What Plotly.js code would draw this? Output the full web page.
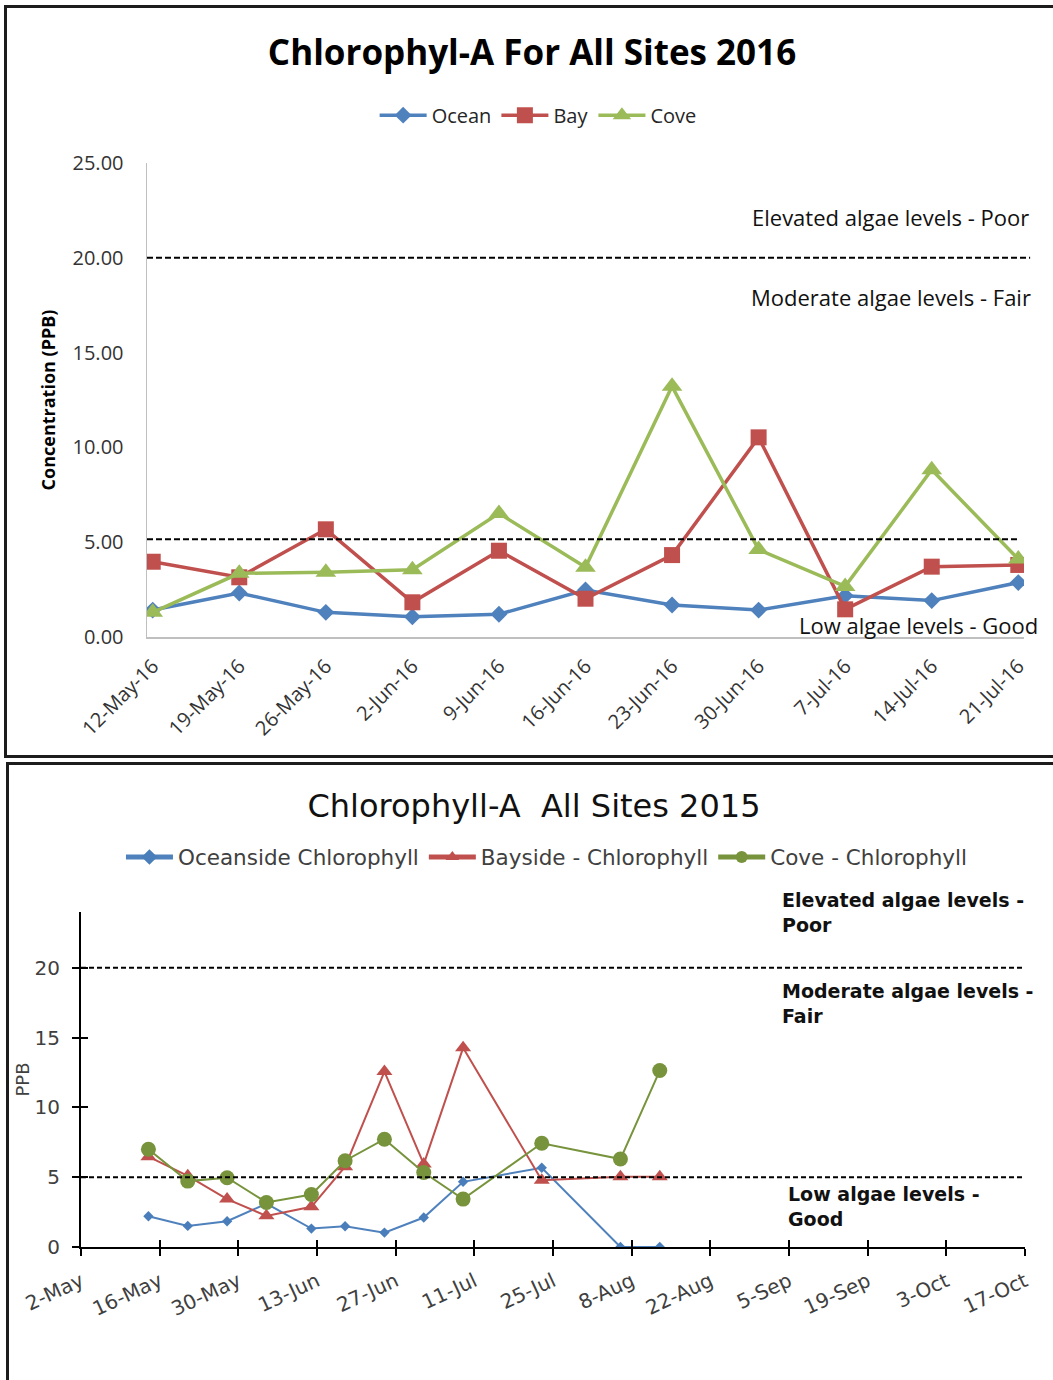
<!DOCTYPE html>
<html>
<head>
<meta charset="utf-8">
<script src="https://cdn.plot.ly/plotly-3.0.1.min.js"></script>
<style>
  html, body { margin: 0; padding: 0; background: #fff; overflow: hidden; width: 1053px; height: 1380px; }
  .frame { position: absolute; border: 3px solid #1c1c1c; background: #fff; }
  #frame2016 { left: 4px; top: 5px; width: 1050px; height: 747px; }
  #frame2015 { left: 6px; top: 762px; width: 1050px; height: 640px; }
</style>
</head>
<body>
<div class="frame" id="frame2016"><div id="chart2016"></div></div>
<div class="frame" id="frame2015"><div id="chart2015"></div></div>
<script>
// ---- 2016 weekly samples (PPB) ----
const weeks2016 = ['12-May-16', '19-May-16', '26-May-16', '2-Jun-16', '9-Jun-16', '16-Jun-16',
                   '23-Jun-16', '30-Jun-16', '7-Jul-16', '14-Jul-16', '21-Jul-16'];
const ocean2016 = [1.42, 2.32, 1.30, 1.07, 1.20, 2.48, 1.69, 1.42, 2.18, 1.92, 2.87];
const bay2016   = [3.97, 3.15, 5.68, 1.83, 4.55, 2.02, 4.32, 10.53, 1.46, 3.71, 3.80];
const cove2016  = [1.30, 3.36, 3.41, 3.55, 6.52, 3.68, 13.22, 4.61, 2.67, 8.82, 4.11];
const levels2016 = { poor: 20, good: 5.15 };

// ---- 2015 samples (PPB) ----
const dates2015 = ['2015-05-14', '2015-05-21', '2015-05-28', '2015-06-04', '2015-06-12', '2015-06-18',
                   '2015-06-25', '2015-07-02', '2015-07-09', '2015-07-23', '2015-08-06', '2015-08-13'];
const oceanside2015 = [2.2, 1.51, 1.85, 3.1, 1.32, 1.49, 1.03, 2.11, 4.67, 5.68, 0, 0];
const bayside2015   = [6.47, 5.1, 3.43, 2.23, 2.88, 5.75, 12.57, 5.94, 14.27, 4.79, 5.03, 5.03];
const cove2015      = [7.0, 4.72, 4.96, 3.19, 3.76, 6.18, 7.72, 5.34, 3.43, 7.43, 6.30, 12.64];
const levels2015 = { poor: 20, good: 5 };

const SANS = 'Open Sans, Noto Sans, sans-serif';
const WIDE = 'DejaVu Sans, Verdana, sans-serif';

// ================= 2016 chart =================
const lineTrace = (name, y, color, symbol, size) => ({
  type: 'scatter', mode: 'lines+markers', name: name,
  x: weeks2016, y: y,
  line: { color: color, width: 3.5 },
  marker: { color: color, symbol: symbol, size: size },
  hoverinfo: 'x+y+name'
});

const traces2016 = [
  lineTrace('Ocean', ocean2016, '#4F81BD', 'diamond', 13),
  lineTrace('Bay', bay2016, '#C0504D', 'square', 16),
  lineTrace('Cove', cove2016, '#9BBB59', 'triangle-up', 18)
];

const layout2016 = {
  width: 1050, height: 747,
  margin: { l: 140, r: 33, t: 155, b: 118 },
  paper_bgcolor: '#fff', plot_bgcolor: '#fff',
  font: { family: SANS, color: '#262626' },
  title: {
    text: 'Chlorophyl-A For All Sites 2016',
    font: { family: SANS, size: 35, weight: 'bold', color: '#000' },
    xref: 'container', x: 0.5, xanchor: 'center',
    yref: 'container', y: 0.940, yanchor: 'middle'
  },
  showlegend: true,
  legend: {
    orientation: 'h', x: 0.446, xanchor: 'center', y: 1.101, yanchor: 'middle',
    itemwidth: 47,
    font: { family: SANS, size: 20, color: '#262626' },
    bgcolor: 'rgba(0,0,0,0)'
  },
  xaxis: {
    type: 'category', categoryorder: 'array', categoryarray: weeks2016,
    range: [-0.066, 10.066],
    showline: true, linecolor: '#BFBFBF', linewidth: 1.5,
    showgrid: false, zeroline: false, ticks: '',
    ticklabelstandoff: 8,
    tickangle: -45, tickfont: { family: SANS, size: 20, color: '#333' }
  },
  yaxis: {
    range: [0, 25], dtick: 5, tickformat: '.2f',
    showline: true, linecolor: '#BFBFBF', linewidth: 1.5,
    showgrid: false, zeroline: false, ticks: '',
    ticklabelstandoff: 18,
    tickfont: { family: SANS, size: 20, color: '#333' },
    title: { text: 'Concentration (PPB)', standoff: 12,
             font: { family: SANS, size: 18, weight: 'bold', color: '#000' } }
  },
  shapes: [
    { type: 'line', xref: 'paper', yref: 'y', x0: 0, x1: 1.007, y0: levels2016.poor, y1: levels2016.poor,
      line: { color: '#000', width: 2, dash: '6px,3px' } },
    { type: 'line', xref: 'paper', yref: 'y', x0: 0, x1: 0.992, y0: levels2016.good, y1: levels2016.good,
      line: { color: '#000', width: 2, dash: '6px,3px' } }
  ],
  annotations: [
    { text: 'Elevated algae levels - Poor', xref: 'paper', yref: 'y', x: 1.008, y: 22.15,
      xanchor: 'right', yanchor: 'middle', showarrow: false,
      font: { family: SANS, size: 22, color: '#111' } },
    { text: 'Moderate algae levels - Fair', xref: 'paper', yref: 'y', x: 1.010, y: 17.93,
      xanchor: 'right', yanchor: 'middle', showarrow: false,
      font: { family: SANS, size: 22, color: '#111' } },
    { text: 'Low algae levels - Good', xref: 'paper', yref: 'y', x: 1.018, y: 0.63,
      xanchor: 'right', yanchor: 'middle', showarrow: false,
      font: { family: SANS, size: 22, color: '#111' } }
  ]
};

Plotly.newPlot('chart2016', traces2016, layout2016, { displayModeBar: false, staticPlot: true });

// ================= 2015 chart =================
const dayMs = 86400000;
const dateTrace = (name, y, color, lineColor, symbol, size) => ({
  type: 'scatter', mode: 'lines+markers', name: name,
  x: dates2015, y: y,
  line: { color: lineColor, width: 2 },
  marker: { color: color, symbol: symbol, size: size },
  hoverinfo: 'x+y+name'
});

const traces2015 = [
  dateTrace('Oceanside Chlorophyll', oceanside2015, '#4A7EBB', '#4F81BD', 'diamond', 8),
  dateTrace('Bayside - Chlorophyll', bayside2015, '#C0504D', '#C0504D', 'triangle-up', 14),
  dateTrace('Cove - Chlorophyll', cove2015, '#77933C', '#77933C', 'circle', 15),
  // empty companion trace so the inner tick marks (cross ticks) get their own overlay axes
  { type: 'scatter', x: [], y: [], xaxis: 'x2', yaxis: 'y2', showlegend: false, hoverinfo: 'skip' }
];

const xRange2015 = ['2015-05-02', '2015-10-17'];
const yRange2015 = [0, 24];

const layout2015 = {
  width: 1050, height: 640,
  margin: { l: 71.6, r: 33.5, t: 147, b: 158.3 },
  paper_bgcolor: '#fff', plot_bgcolor: 'rgba(0,0,0,0)',
  font: { family: WIDE, color: '#404040' },
  title: {
    text: 'Chlorophyll-A\u00a0 All Sites 2015',
    font: { family: WIDE, size: 32, color: '#111' },
    xref: 'container', x: 0.5, xanchor: 'center',
    yref: 'container', y: 0.936, yanchor: 'middle'
  },
  showlegend: true,
  legend: {
    orientation: 'h', x: 0.4936, xanchor: 'center', y: 1.164, yanchor: 'middle',
    itemwidth: 47,
    font: { family: WIDE, size: 21.5, color: '#404040' },
    itemsizing: 'constant', bgcolor: 'rgba(0,0,0,0)'
  },
  xaxis: {
    type: 'date', range: xRange2015, tick0: '2015-05-02', dtick: 14 * dayMs,
    tickformat: '%-d-%b', tickangle: -25,
    showline: true, linecolor: '#000', linewidth: 2,
    ticks: 'outside', ticklen: 7, tickwidth: 2, tickcolor: '#000',
    ticklabelstandoff: 6,
    showgrid: false, zeroline: false,
    tickfont: { family: WIDE, size: 20, color: '#404040' }
  },
  yaxis: {
    range: yRange2015, dtick: 5,
    showline: true, linecolor: '#000', linewidth: 2,
    ticks: 'outside', ticklen: 7, tickwidth: 2, tickcolor: '#000',
    ticklabelstandoff: 8,
    showgrid: false, zeroline: false,
    tickfont: { family: WIDE, size: 20, color: '#404040' },
    title: { text: 'PPB', standoff: 0, font: { family: WIDE, size: 18, color: '#404040' } }
  },
  xaxis2: {
    type: 'date', range: xRange2015, tick0: '2015-05-02', dtick: 14 * dayMs,
    overlaying: 'x', anchor: 'y2', side: 'bottom',
    ticks: 'inside', ticklen: 7, tickwidth: 2, tickcolor: '#000',
    showticklabels: false, showline: false, showgrid: false, zeroline: false
  },
  yaxis2: {
    range: yRange2015, dtick: 5,
    overlaying: 'y', anchor: 'x2', side: 'left',
    ticks: 'inside', ticklen: 7, tickwidth: 2, tickcolor: '#000',
    showticklabels: false, showline: false, showgrid: false, zeroline: false
  },
  shapes: [
    { type: 'line', xref: 'paper', yref: 'y', x0: 0, x1: 1, y0: levels2015.poor, y1: levels2015.poor,
      line: { color: '#000', width: 2, dash: '5px,3px' } },
    { type: 'line', xref: 'paper', yref: 'y', x0: 0, x1: 1, y0: levels2015.good, y1: levels2015.good,
      line: { color: '#000', width: 2, dash: '5px,3px' } }
  ],
  annotations: [
    { text: 'Elevated algae levels -<br>Poor', xref: 'paper', yref: 'y', x: 0.740, y: 23.97,
      xanchor: 'left', yanchor: 'middle', align: 'left', showarrow: false,
      font: { family: WIDE, size: 19, weight: 'bold', color: '#111' } },
    { text: 'Moderate algae levels -<br>Fair', xref: 'paper', yref: 'y', x: 0.740, y: 17.44,
      xanchor: 'left', yanchor: 'middle', align: 'left', showarrow: false,
      font: { family: WIDE, size: 19, weight: 'bold', color: '#111' } },
    { text: 'Low algae levels -<br>Good', xref: 'paper', yref: 'y', x: 0.747, y: 2.89,
      xanchor: 'left', yanchor: 'middle', align: 'left', showarrow: false,
      font: { family: WIDE, size: 19, weight: 'bold', color: '#111' } }
  ]
};

Plotly.newPlot('chart2015', traces2015, layout2015, { displayModeBar: false, staticPlot: true });
</script>
</body>
</html>
